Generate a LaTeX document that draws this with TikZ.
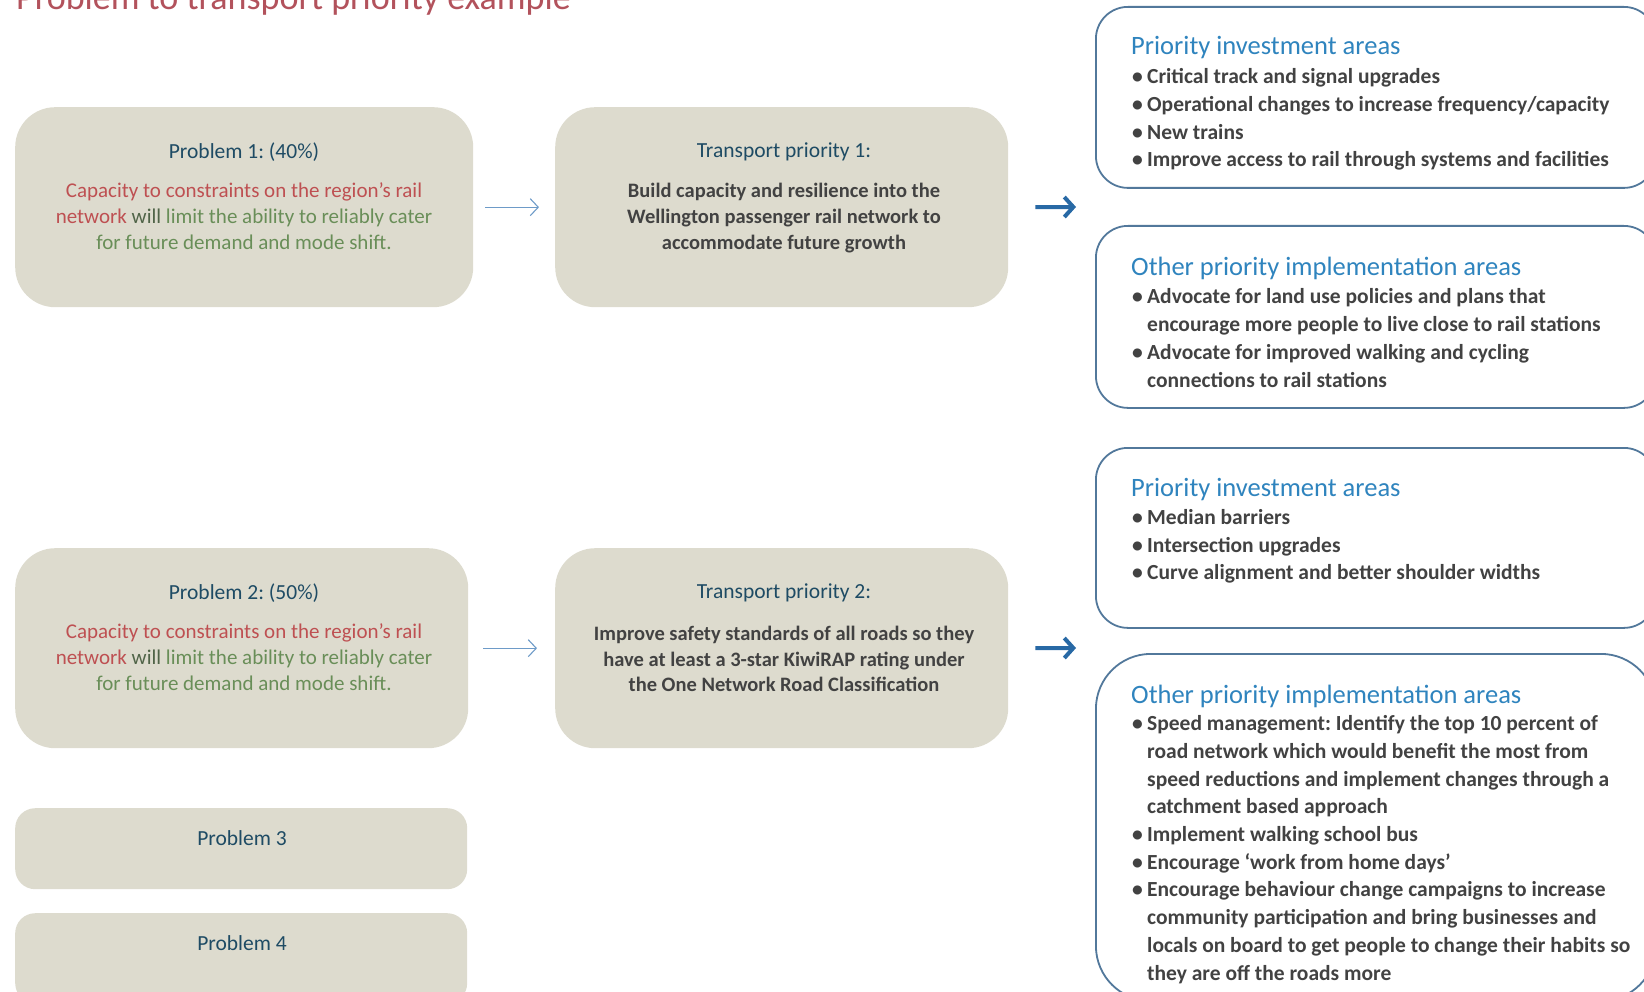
\documentclass[tikz,border=0pt]{standalone}
\usepackage{fontspec}
\setmainfont{Carlito}
\usetikzlibrary{arrows.meta}

\definecolor{boxfill}{RGB}{221,219,206}
\definecolor{headteal}{RGB}{30,75,100}
\definecolor{titlered}{RGB}{178,82,92}
\definecolor{probred}{RGB}{190,80,82}
\definecolor{probgreen}{RGB}{105,142,88}
\definecolor{willgreen}{RGB}{80,100,72}
\definecolor{bodygray}{RGB}{66,66,66}
\definecolor{headblue}{RGB}{47,132,190}
\definecolor{bordblue}{RGB}{82,120,155}
\definecolor{thinblue}{RGB}{110,155,200}
\definecolor{darkblue}{RGB}{40,105,165}

\newcommand{\bitem}{\makebox[15pt][l]{\textbullet}}
\newcommand{\bcont}{\hspace*{15pt}}

\begin{document}
\frenchspacing
\begin{tikzpicture}[x=1pt, y=-1pt,
    greybox/.style={fill=boxfill, rounded corners=40pt, anchor=north west, inner sep=0pt},
    bluebox/.style={draw=bordblue, line width=1.8pt, fill=white, rounded corners=32pt, anchor=north west, inner sep=0pt},
    boxhead/.style={text=headteal, font=\fontsize{21.5}{26}\selectfont},
    probtext/.style={align=center, font=\fontsize{21}{25.7}\selectfont},
    prioritytext/.style={align=center, text=bodygray, font=\fontsize{20.5}{25.7}\selectfont\bfseries},
    areahead/.style={anchor=west, inner sep=0pt, text=headblue, font=\fontsize{26.5}{30}\selectfont},
    arealist/.style={anchor=west, inner sep=0pt, align=left, text=bodygray, font=\fontsize{21.5}{27.7}\selectfont\bfseries},
    thinarrow/.style={draw=thinblue, line width=1.1pt, -{Straight Barb[length=8pt,width=17pt]}},
    thickarrow/.style={draw=darkblue, line width=4pt, -{Straight Barb[length=9pt,width=20pt]}}]
    \useasboundingbox (0,0) rectangle (1644,992);
    \clip (0,0) rectangle (1644,992);

    % title
    \node[anchor=base west, inner sep=0pt, text=titlered, font=\fontsize{36}{40}\selectfont] (title) at (16,10) {Problem to transport priority example};

    % problem and priority boxes
    \node[greybox, minimum width=458pt, minimum height=200pt] (p1) at (15,107) {};
    \node[greybox, minimum width=453pt, minimum height=200pt] (t1) at (555,107) {};
    \node[greybox, minimum width=453pt, minimum height=200pt] (p2) at (15,548) {};
    \node[greybox, minimum width=453pt, minimum height=200pt] (t2) at (555,548) {};
    \node[greybox, rounded corners=20pt, minimum width=452pt, minimum height=81pt] (p3) at (15,808) {};
    \node[greybox, rounded corners=20pt, minimum width=452pt, minimum height=90pt] (p4) at (15,913) {};

    \node[boxhead] (p1head) at (244,152) {Problem 1: (40\%)};
    \node[probtext] (p1body) at (244,216) {{\color{probred}Capacity to constraints on the region's rail}\\
        {\color{probred}network} {\color{willgreen}will} {\color{probgreen}limit the ability to reliably cater}\\
        {\color{probgreen}for future demand and mode shift.}};
    \node[boxhead] (t1head) at (784,152) {Transport priority 1:};
    \node[prioritytext] (t1body) at (784,218) {Build capacity and resilience into the\\
        Wellington passenger rail network to\\accommodate future growth};

    \node[boxhead] (p2head) at (244,593) {Problem 2: (50\%)};
    \node[probtext] (p2body) at (244,657) {{\color{probred}Capacity to constraints on the region's rail}\\
        {\color{probred}network} {\color{willgreen}will} {\color{probgreen}limit the ability to reliably cater}\\
        {\color{probgreen}for future demand and mode shift.}};
    \node[boxhead] (t2head) at (784,593) {Transport priority 2:};
    \node[prioritytext] (t2body) at (784,659) {Improve safety standards of all roads so they\\
        have at least a 3-star KiwiRAP rating under\\the One Network Road Classification};

    \node[boxhead] (p3head) at (242,838) {Problem 3};
    \node[boxhead] (p4head) at (242,943) {Problem 4};

    % arrows
    \draw[thinarrow, shorten <=12pt, shorten >=16pt] (p1.east) -- (t1.west);
    \draw[thinarrow, shorten <=15pt, shorten >=18pt] (p2.east) -- (t2.west);
    \coordinate (g1) at (1076,207);
    \coordinate (g2) at (1076,648);
    \draw[thickarrow, shorten <=27pt] (t1.east) -- (g1);
    \draw[thickarrow, shorten <=27pt] (t2.east) -- (g2);

    % area boxes
    \node[bluebox, minimum width=560pt, minimum height=181pt] (a1) at (1095,6) {};
    \node[bluebox, minimum width=560pt, minimum height=182pt] (a2) at (1095,225) {};
    \node[bluebox, minimum width=560pt, minimum height=180pt] (a3) at (1095,447) {};
    \node[bluebox, rounded corners=55pt, minimum width=560pt, minimum height=347pt] (a4) at (1095,653) {};

    \node[areahead] (a1head) at (1131,47.5) {Priority investment areas};
    \node[arealist] (a1list) at (1132,119.5) {\bitem Critical track and signal upgrades\\
        \bitem Operational changes to increase frequency/capacity\\
        \bitem New trains\\
        \bitem Improve access to rail through systems and facilities};

    \node[areahead] (a2head) at (1131,268.5) {Other priority implementation areas};
    \node[arealist] (a2list) at (1132,338) {\bitem Advocate for land use policies and plans that\\
        \bcont encourage more people to live close to rail stations\\
        \bitem Advocate for improved walking and cycling\\
        \bcont connections to rail stations};

    \node[areahead] (a3head) at (1131,489.5) {Priority investment areas};
    \node[arealist] (a3list) at (1132,546.5) {\bitem Median barriers\\
        \bitem Intersection upgrades\\
        \bitem Curve alignment and better shoulder widths};

    \node[areahead] (a4head) at (1131,696.5) {Other priority implementation areas};
    \node[arealist] (a4list) at (1132,849.5) {\bitem Speed management: Identify the top 10 percent of\\
        \bcont road network which would benefit the most from\\
        \bcont speed reductions and implement changes through a\\
        \bcont catchment based approach\\
        \bitem Implement walking school bus\\
        \bitem Encourage `work from home days'\\
        \bitem Encourage behaviour change campaigns to increase\\
        \bcont community participation and bring businesses and\\
        \bcont locals on board to get people to change their habits so\\
        \bcont they are off the roads more};
\end{tikzpicture}
\end{document}
